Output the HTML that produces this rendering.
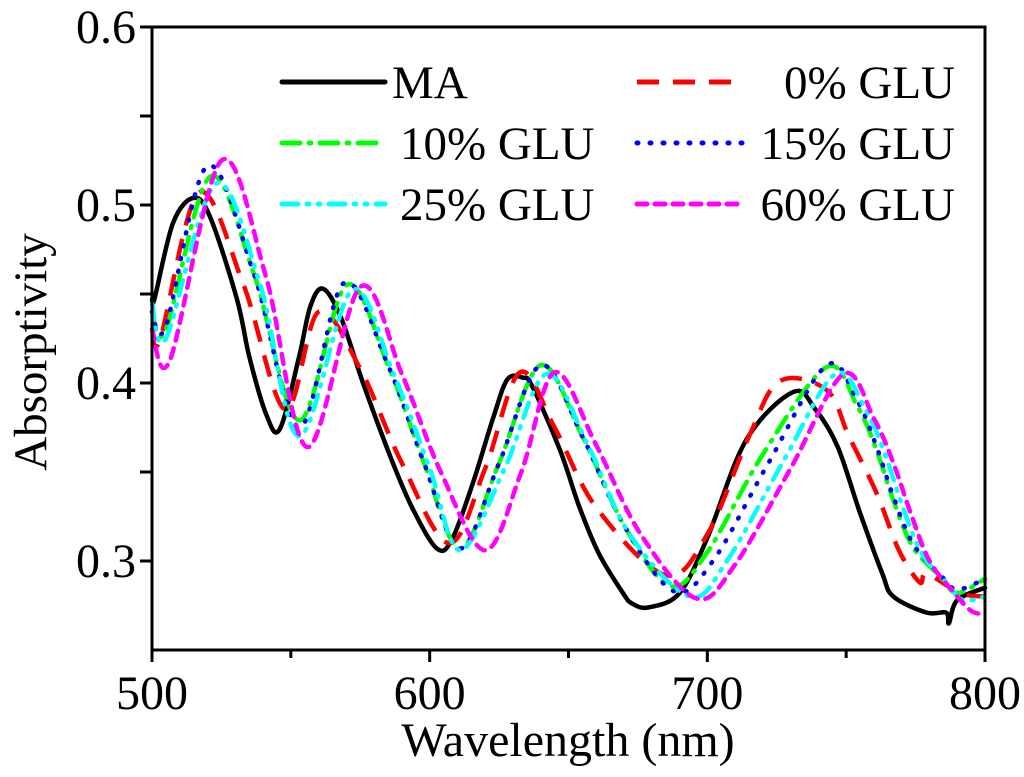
<!DOCTYPE html>
<html><head><meta charset="utf-8"><style>
html,body{margin:0;padding:0;background:#fff}
svg{display:block;font-family:"Liberation Serif",serif}
</style></head><body>
<svg id="chart" width="1024" height="777" viewBox="0 0 1024 777" xmlns="http://www.w3.org/2000/svg">
<g id="plot"></g>
<g id="axes"></g>
<g id="legend"></g>
<text x="568" y="756" font-size="48" text-anchor="middle">Wavelength (nm)</text>
<text transform="translate(46,352) rotate(-90)" font-size="47" text-anchor="middle">Absorptivity</text>
</svg>
<script>
const seriesNames = ["MA","0% GLU","10% GLU","15% GLU","25% GLU","60% GLU"];
const xTicks = [500,600,700,800];
const yTicks = [0.3,0.4,0.5,0.6];
const maX = [500,501,507.6,515,521,530.6,535,541,546,553,557,561.6,568,576,586,594,602.6,608,615.6,623,628,633.6,637,647,654,661,669.6,673,679,690,700,714,731,739,747,755,763,767,779,786,787,790,800];
const maY = [0.447,0.448,0.490,0.504,0.493,0.447,0.415,0.383,0.374,0.415,0.443,0.453,0.437,0.400,0.358,0.329,0.307,0.312,0.344,0.381,0.402,0.403,0.398,0.362,0.330,0.304,0.282,0.276,0.274,0.282,0.313,0.368,0.395,0.385,0.364,0.327,0.293,0.280,0.271,0.271,0.265,0.278,0.285];
const g0X = [500,503,517,533,548,560,575,590,607,620,632.5,645,660,685,700,715,726,743,751,761,769,776.5,779,791,800];
const g0Y = [0.430,0.425,0.507,0.455,0.385,0.440,0.408,0.355,0.310,0.352,0.406,0.375,0.330,0.292,0.315,0.370,0.401,0.396,0.370,0.338,0.306,0.288,0.293,0.282,0.280];
const g10X = [500,505,521,537,553,570,585,598,611,625,640,655,670,686.5,700,720,743,754,761,767,774,784,790,800];
const g10Y = [0.440,0.430,0.516,0.460,0.379,0.455,0.410,0.355,0.307,0.355,0.410,0.370,0.320,0.286,0.305,0.360,0.409,0.387,0.362,0.334,0.308,0.291,0.282,0.290];
const g15X = [500,505,520,537,553,569,585,598,611,625,640,655,670,688,702,722,743,754,761,767,774,784,790,800];
const g15Y = [0.440,0.432,0.522,0.460,0.375,0.456,0.410,0.355,0.307,0.355,0.410,0.370,0.320,0.283,0.300,0.355,0.410,0.390,0.364,0.336,0.310,0.292,0.284,0.290];
const g25X = [500,505,523,539,553,572,587,600,611,627,642,657,672,693.7,707,727,746,757,764,770,777,786,792,800];
const g25Y = [0.445,0.425,0.512,0.455,0.370,0.452,0.405,0.352,0.306,0.352,0.405,0.365,0.315,0.280,0.300,0.355,0.405,0.385,0.360,0.332,0.305,0.288,0.278,0.280];
const g60X = [500,506.5,525,541,556,575,590,604,620,633,645,660,676,696,710,730,749,760,767,773,780,789,795,800];
const g60Y = [0.430,0.413,0.525,0.460,0.364,0.454,0.405,0.350,0.306,0.350,0.406,0.365,0.315,0.279,0.298,0.352,0.405,0.380,0.355,0.328,0.300,0.282,0.272,0.270];

const X0=152,X1=985,Y0=650,Y1=27;
function sx(v){return X0+(v-500)/300*(X1-X0);}
function sy(v){return Y0-(v-0.25)/0.35*(Y0-Y1);}
const NS="http://www.w3.org/2000/svg";
function mk(tag,parent){const e=document.createElementNS(NS,tag);parent.appendChild(e);return e;}
function pathFrom(xs,ys){
  const p=xs.map((x,i)=>[sx(x),sy(ys[i])]);
  let d="M"+p[0][0].toFixed(1)+","+p[0][1].toFixed(1);
  for(let i=0;i<p.length-1;i++){
    const a=p[Math.max(i-1,0)],b=p[i],c=p[i+1],e=p[Math.min(i+2,p.length-1)];
    const c1=[b[0]+(c[0]-a[0])/6,b[1]+(c[1]-a[1])/6];
    const c2=[c[0]-(e[0]-b[0])/6,c[1]-(e[1]-b[1])/6];
    d+=" C"+c1.map(v=>v.toFixed(1))+" "+c2.map(v=>v.toFixed(1))+" "+c[0].toFixed(1)+","+c[1].toFixed(1);
  }
  return d;
}
const styles=[
 {c:"#000",da:"",cap:"round"},
 {c:"#ff0000",da:"22 14",cap:"butt"},
 {c:"#00ff00",da:"18 9 2 9",cap:"round"},
 {c:"#0000ff",da:"1 12",cap:"round"},
 {c:"#00ffff",da:"16 9 2 9 2 9",cap:"round"},
 {c:"#ff00ff",da:"10 8",cap:"round"}];
const slugs=["ma","glu-0","glu-10","glu-15","glu-25","glu-60"];
const data=[[maX,maY],[g0X,g0Y],[g10X,g10Y],[g15X,g15Y],[g25X,g25Y],[g60X,g60Y]];
const plot=document.getElementById("plot");
data.forEach((s,i)=>{
  const p=mk("path",plot);
  
  
  p.setAttribute("d",pathFrom(s[0],s[1]));
  p.setAttribute("fill","none");p.setAttribute("stroke",styles[i].c);
  p.setAttribute("stroke-width","4.5");p.setAttribute("stroke-linecap",styles[i].cap);
  p.setAttribute("stroke-linejoin","round");
  if(styles[i].da)p.setAttribute("stroke-dasharray",styles[i].da);
});
const axes=document.getElementById("axes");
const frame=mk("rect",axes);


frame.setAttribute("x",X0);frame.setAttribute("y",Y1);frame.setAttribute("width",X1-X0);frame.setAttribute("height",Y0-Y1);
frame.setAttribute("fill","none");frame.setAttribute("stroke","#000");frame.setAttribute("stroke-width","3");
for(let v=500;v<=800;v+=50){
  const t=mk("line",axes);
  
  
  const major=v%100===0;
  t.setAttribute("x1",sx(v));t.setAttribute("x2",sx(v));t.setAttribute("y1",Y0);t.setAttribute("y2",Y0+(major?12:8));
  t.setAttribute("stroke","#000");t.setAttribute("stroke-width","3");
}
xTicks.forEach(v=>{
  const t=mk("text",axes);
  
  
  t.setAttribute("x",sx(v));t.setAttribute("y",709);t.setAttribute("font-size","48");t.setAttribute("text-anchor","middle");
  t.textContent=v;
});
for(let k=0;k<=6;k++){
  const v=0.3+k*0.05;
  const t=mk("line",axes);
  
  
  t.setAttribute("x1",X0);t.setAttribute("x2",X0-12);t.setAttribute("y1",sy(v));t.setAttribute("y2",sy(v));
  t.setAttribute("stroke","#000");t.setAttribute("stroke-width","3");
}
yTicks.forEach(v=>{
  const t=mk("text",axes);
  
  
  t.setAttribute("x",136);t.setAttribute("y",sy(v)+16);t.setAttribute("font-size","48");t.setAttribute("text-anchor","end");
  t.textContent=v.toFixed(1);
});
const leg=document.getElementById("legend");
const legPos=[[282,385,392,"start",82],[637,742,955,"end",82],[282,385,400,"start",143],[637,742,955,"end",143],[282,385,400,"start",204],[637,742,955,"end",204]];
const legOrder=[0,1,2,3,4,5];
legOrder.forEach((i,k)=>{
  const lp=legPos[k];
  const g=mk("g",leg);
  
  
  const l=mk("line",g);
  l.setAttribute("x1",lp[0]);l.setAttribute("x2",lp[1]);l.setAttribute("y1",lp[4]);l.setAttribute("y2",lp[4]);
  l.setAttribute("stroke",styles[i].c);l.setAttribute("stroke-width","5");l.setAttribute("stroke-linecap",styles[i].cap);
  if(styles[i].da)l.setAttribute("stroke-dasharray",styles[i].da);
  const t=mk("text",g);
  t.setAttribute("x",lp[2]);t.setAttribute("y",lp[4]+16);t.setAttribute("font-size","47");t.setAttribute("text-anchor",lp[3]);
  t.textContent=seriesNames[i];
});
</script>
</body></html>
